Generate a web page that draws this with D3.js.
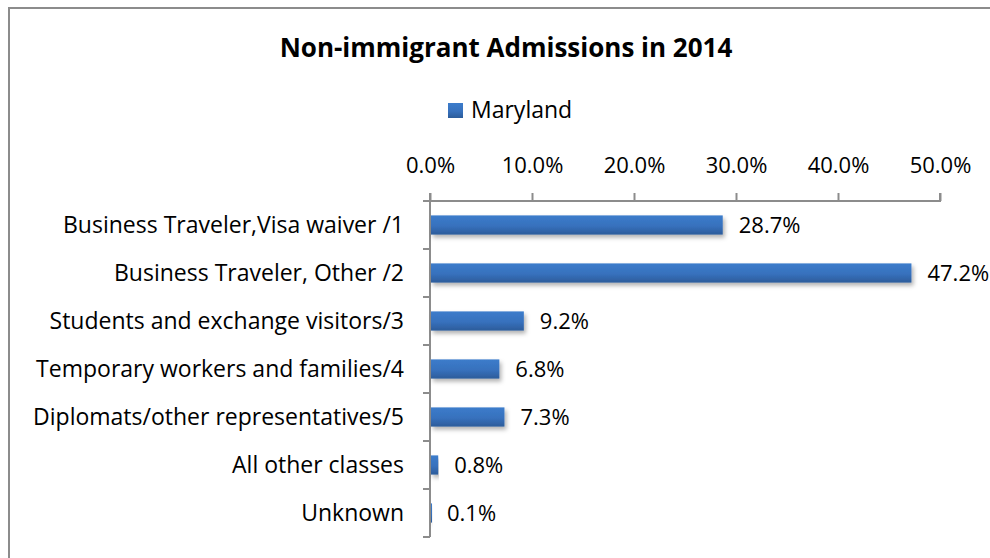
<!DOCTYPE html>
<html>
<head>
<meta charset="utf-8">
<script src="https://cdn.jsdelivr.net/npm/d3@7"></script>
<style>
  body { margin: 0; background: #fff; }
  svg text { font-family: "Open Sans", sans-serif; fill: #000; }
</style>
</head>
<body>
<svg id="chart" width="990" height="558"></svg>
<script>
const categories = [
  "Business Traveler,Visa waiver /1",
  "Business Traveler, Other /2",
  "Students and exchange visitors/3",
  "Temporary workers and families/4",
  "Diplomats/other representatives/5",
  "All other classes",
  "Unknown"
];
const values = [28.7, 47.2, 9.2, 6.8, 7.3, 0.8, 0.1];
const tickValues = [0, 10, 20, 30, 40, 50];
const seriesName = "Maryland";
const title = "Non-immigrant Admissions in 2014";

const svg = d3.select("#chart");

// chart frame
svg.append("path")
  .attr("d", "M9,558 V8 H990")
  .attr("fill", "none")
  .attr("stroke", "#8c8c8c")
  .attr("stroke-width", 2);

const defs = svg.append("defs");
const grad = defs.append("linearGradient")
  .attr("id", "barGrad").attr("x1", 0).attr("y1", 0).attr("x2", 0).attr("y2", 1);
grad.append("stop").attr("offset", "0%").attr("stop-color", "#3c7ccb");
grad.append("stop").attr("offset", "55%").attr("stop-color", "#3771bd");
grad.append("stop").attr("offset", "100%").attr("stop-color", "#2c5c9a");

const shadow = defs.append("filter").attr("id", "shadow")
  .attr("x", "-5%").attr("y", "-30%").attr("width", "115%").attr("height", "190%");
shadow.append("feDropShadow")
  .attr("dx", 2).attr("dy", 3).attr("stdDeviation", 2.2)
  .attr("flood-color", "#000").attr("flood-opacity", 0.3);

const margin = { left: 430, top: 201 };
const plotW = 940 - margin.left;
const plotH = 537 - margin.top;

const x = d3.scaleLinear().domain([0, 50]).range([margin.left, margin.left + plotW]);
const y = d3.scaleBand().domain(categories).range([margin.top, margin.top + plotH]).paddingInner(0.6).paddingOuter(0.3);

// title
svg.append("text")
  .attr("x", 506).attr("y", 57)
  .attr("text-anchor", "middle")
  .attr("font-size", 26).attr("font-weight", "bold")
  .text(title);

// legend
svg.append("rect")
  .attr("x", 448).attr("y", 103).attr("width", 15).attr("height", 15)
  .attr("fill", "url(#barGrad)");
svg.append("text")
  .attr("x", 471).attr("y", 118)
  .attr("font-size", 23)
  .text(seriesName);

// x axis (top)
const xAxis = svg.append("g")
  .attr("transform", `translate(0,${margin.top})`)
  .call(d3.axisTop(x).tickValues(tickValues).tickSize(8).tickPadding(20)
    .tickFormat(d => d.toFixed(1) + "%"));
xAxis.select(".domain").attr("stroke", "#8c8c8c").attr("stroke-width", 2)
  .attr("d", `M${margin.left},-8V0H${margin.left + plotW}V-8`);
xAxis.selectAll(".tick line").attr("stroke", "#8c8c8c").attr("stroke-width", 2);
xAxis.selectAll(".tick text").attr("font-size", 22).attr("font-family", "'Open Sans', sans-serif").attr("fill", "#000");

// y axis (left)
const yAxisG = svg.append("g");
yAxisG.append("line")
  .attr("x1", margin.left).attr("x2", margin.left)
  .attr("y1", margin.top).attr("y2", margin.top + plotH)
  .attr("stroke", "#8c8c8c").attr("stroke-width", 2);
const step = plotH / categories.length;
yAxisG.selectAll("line.cat-tick")
  .data(d3.range(categories.length + 1))
  .join("line")
  .attr("class", "cat-tick")
  .attr("x1", margin.left - 7).attr("x2", margin.left)
  .attr("y1", i => margin.top + i * step).attr("y2", i => margin.top + i * step)
  .attr("stroke", "#8c8c8c").attr("stroke-width", 2);

svg.selectAll("text.cat")
  .data(categories)
  .join("text")
  .attr("class", "cat")
  .attr("x", 404)
  .attr("y", d => y(d) + y.bandwidth() / 2)
  .attr("dy", "0.35em")
  .attr("text-anchor", "end")
  .attr("font-size", 23)
  .text(d => d);

// bars
svg.selectAll("rect.bar")
  .data(values)
  .join("rect")
  .attr("class", "bar")
  .attr("x", x(0) + 1)
  .attr("y", (d, i) => y(categories[i]))
  .attr("width", d => Math.max(x(d) - x(0) - 1, 1))
  .attr("height", y.bandwidth())
  .attr("fill", "url(#barGrad)")
  .attr("filter", "url(#shadow)");

// value labels
svg.selectAll("text.val")
  .data(values)
  .join("text")
  .attr("class", "val")
  .attr("x", d => x(d) + 16)
  .attr("y", (d, i) => y(categories[i]) + y.bandwidth() / 2)
  .attr("dy", "0.35em")
  .attr("font-size", 22)
  .text(d => d.toFixed(1) + "%");
</script>
</body>
</html>
